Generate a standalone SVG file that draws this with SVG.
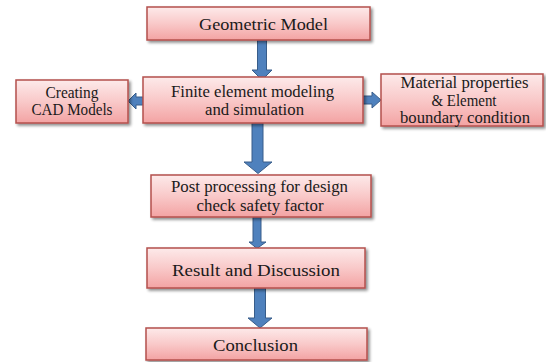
<svg xmlns="http://www.w3.org/2000/svg" width="546" height="362" viewBox="0 0 546 362">
<defs>
<linearGradient id="g" x1="0" y1="0" x2="0" y2="1">
<stop offset="0" stop-color="#fdeaea"/>
<stop offset="0.5" stop-color="#f9c9c9"/>
<stop offset="1" stop-color="#f3a3a3"/>
</linearGradient>
<filter id="sh" x="-10%" y="-10%" width="125%" height="140%">
<feGaussianBlur in="SourceAlpha" stdDeviation="1.5"/>
<feOffset dx="1.5" dy="2" result="b"/>
<feComponentTransfer><feFuncA type="linear" slope="0.45"/></feComponentTransfer>
<feMerge><feMergeNode/><feMergeNode in="SourceGraphic"/></feMerge>
</filter>
</defs>
<style>
.box{fill:url(#g);stroke:#b4504c;stroke-width:1.5;filter:url(#sh)}
.t{font-size:16px;fill:#1a1a1a;text-anchor:middle}
.arr{fill:#4f81bd;stroke:#385d8a;stroke-width:1}
</style>
<rect width="546" height="362" fill="#ffffff"/>
<g id="connectors">
<polygon class="arr" points="257.5,40 266.5,40 266.5,70 272,70 262,80 252,70 257.5,70"/>
<polygon class="arr" points="252,123 263,123 263,162 272,162 258,173.5 244,162 252,162"/>
<polygon class="arr" points="253,217 261,217 261,242 266,242 257,248.5 249,242 253,242"/>
<polygon class="arr" points="254.5,288 265.5,288 265.5,318 272,318 260,328 248,318 254.5,318"/>
<polygon class="arr" points="143,97 136,97 136,93 128,101 136,109 136,105 143,105"/>
<polygon class="arr" points="363,96 372,96 372,92 381,100 372,108 372,104 363,104"/>
</g>
<g font-family="'Liberation Serif', 'Times New Roman', 'DejaVu Serif', serif">
<g id="geometric-model">
<rect class="box" x="147" y="7" width="223" height="33"/>
<text class="t" x="263.5" y="30" textLength="129" lengthAdjust="spacingAndGlyphs">Geometric Model</text>
</g>
<g id="fem">
<rect class="box" x="143" y="77" width="220" height="46"/>
<text class="t" x="252.5" y="97" textLength="163" lengthAdjust="spacingAndGlyphs">Finite element modeling</text>
<text class="t" x="254.5" y="115" textLength="99" lengthAdjust="spacingAndGlyphs">and simulation</text>
</g>
<g id="cad">
<rect class="box" x="16" y="80" width="112" height="43"/>
<text class="t" x="72" y="98" textLength="53" lengthAdjust="spacingAndGlyphs">Creating</text>
<text class="t" x="72" y="115" textLength="81" lengthAdjust="spacingAndGlyphs">CAD Models</text>
</g>
<g id="material">
<rect class="box" x="381" y="74" width="162" height="52"/>
<text class="t" x="464.5" y="88" textLength="128" lengthAdjust="spacingAndGlyphs">Material properties</text>
<text class="t" x="464" y="106" textLength="65" lengthAdjust="spacingAndGlyphs">&amp; Element</text>
<text class="t" x="465" y="123" textLength="130" lengthAdjust="spacingAndGlyphs">boundary condition</text>
</g>
<g id="post">
<rect class="box" x="151" y="175" width="220" height="42"/>
<text class="t" x="259.5" y="192" textLength="177" lengthAdjust="spacingAndGlyphs">Post processing for design</text>
<text class="t" x="260" y="211" textLength="127" lengthAdjust="spacingAndGlyphs">check safety factor</text>
</g>
<g id="result">
<rect class="box" x="147" y="248" width="218" height="40"/>
<text class="t" x="256" y="276" textLength="168" lengthAdjust="spacingAndGlyphs">Result and Discussion</text>
</g>
<g id="conclusion">
<rect class="box" x="146" y="328" width="221" height="32"/>
<text class="t" x="255.5" y="351" textLength="85" lengthAdjust="spacingAndGlyphs">Conclusion</text>
</g>
</g>
</svg>
